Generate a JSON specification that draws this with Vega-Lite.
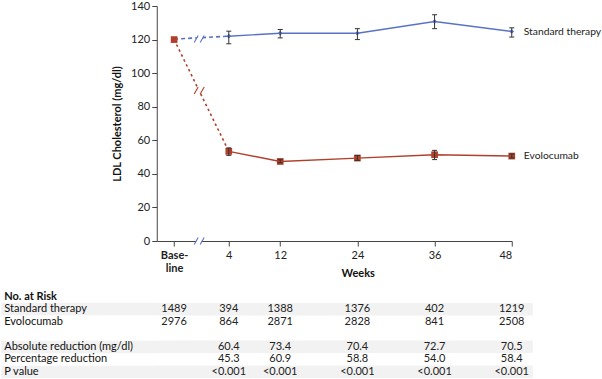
{
  "$schema": "https://vega.github.io/schema/vega-lite/v6.json",
  "padding": {"left": -6.25, "top": 0, "right": 0, "bottom": 0},
  "background": "white",
  "spacing": 11.5,
  "config": {
    "font": "Lato",
    "view": {"stroke": null},
    "axis": {"labelFontSize": 11, "titleFontSize": 11, "labelColor": "#222", "titleColor": "#111", "domainColor": "#444", "tickColor": "#444", "labelFont": "Lato", "titleFont": "Lato"},
    "text": {"font": "Lato", "fontSize": 11, "fill": "#222"}
  },
  "datasets": {
    "main": [
      {"series": "Standard therapy", "week": -4.5, "mean": 120.3, "lo": null, "hi": null},
      {"series": "Standard therapy", "week": 4, "mean": 122.0, "lo": 117.5, "hi": 125.0},
      {"series": "Standard therapy", "week": 12, "mean": 123.8, "lo": 121.0, "hi": 126.0},
      {"series": "Standard therapy", "week": 24, "mean": 123.8, "lo": 120.0, "hi": 126.5},
      {"series": "Standard therapy", "week": 36, "mean": 130.8, "lo": 126.5, "hi": 134.8},
      {"series": "Standard therapy", "week": 48, "mean": 124.8, "lo": 121.5, "hi": 127.0},
      {"series": "Evolocumab", "week": -4.5, "mean": 120.0, "lo": null, "hi": null},
      {"series": "Evolocumab", "week": 4, "mean": 53.4, "lo": 51.0, "hi": 55.5},
      {"series": "Evolocumab", "week": 12, "mean": 47.4, "lo": 46.6, "hi": 48.4},
      {"series": "Evolocumab", "week": 24, "mean": 49.4, "lo": 48.0, "hi": 51.0},
      {"series": "Evolocumab", "week": 36, "mean": 51.4, "lo": 48.5, "hi": 54.0},
      {"series": "Evolocumab", "week": 48, "mean": 50.6, "lo": 49.5, "hi": 51.8}
    ],
    "breaks": [
      {"kind": "axis", "week": -0.6, "value": 0},
      {"kind": "Standard therapy", "week": -0.6, "value": 120.4},
      {"kind": "Evolocumab", "week": -0.6, "value": 89.6}
    ],
    "table": [
      {"row": "Standard therapy", "week": -4.5, "text": "1489"},
      {"row": "Standard therapy", "week": 4, "text": "394"},
      {"row": "Standard therapy", "week": 12, "text": "1388"},
      {"row": "Standard therapy", "week": 24, "text": "1376"},
      {"row": "Standard therapy", "week": 36, "text": "402"},
      {"row": "Standard therapy", "week": 48, "text": "1219"},
      {"row": "Evolocumab", "week": -4.5, "text": "2976"},
      {"row": "Evolocumab", "week": 4, "text": "864"},
      {"row": "Evolocumab", "week": 12, "text": "2871"},
      {"row": "Evolocumab", "week": 24, "text": "2828"},
      {"row": "Evolocumab", "week": 36, "text": "841"},
      {"row": "Evolocumab", "week": 48, "text": "2508"},
      {"row": "Absolute reduction (mg/dl)", "week": 4, "text": "60.4"},
      {"row": "Absolute reduction (mg/dl)", "week": 12, "text": "73.4"},
      {"row": "Absolute reduction (mg/dl)", "week": 24, "text": "70.4"},
      {"row": "Absolute reduction (mg/dl)", "week": 36, "text": "72.7"},
      {"row": "Absolute reduction (mg/dl)", "week": 48, "text": "70.5"},
      {"row": "Percentage reduction", "week": 4, "text": "45.3"},
      {"row": "Percentage reduction", "week": 12, "text": "60.9"},
      {"row": "Percentage reduction", "week": 24, "text": "58.8"},
      {"row": "Percentage reduction", "week": 36, "text": "54.0"},
      {"row": "Percentage reduction", "week": 48, "text": "58.4"},
      {"row": "P value", "week": 4, "text": "<0.001"},
      {"row": "P value", "week": 12, "text": "<0.001"},
      {"row": "P value", "week": 24, "text": "<0.001"},
      {"row": "P value", "week": 36, "text": "<0.001"},
      {"row": "P value", "week": 48, "text": "<0.001"}
    ],
    "shaded": [
      {"row": "Standard therapy"},
      {"row": "Absolute reduction (mg/dl)"},
      {"row": "P value"}
    ]
  },
  "resolve": {"scale": {"x": "independent", "y": "independent", "color": "independent"}},
  "vconcat": [
    {
      "width": 355,
      "height": 235,
      "encoding": {
        "x": {"field": "week", "type": "quantitative", "scale": {"domain": [-7.2, 48], "nice": false, "zero": false},
          "axis": {"values": [-4.5, 4, 12, 24, 36, 48], "title": "Weeks", "titleFontWeight": "bold", "titleX": 201, "titleY": 32, "titleBaseline": "middle", "grid": false, "tickSize": 5, "labelPadding": 3, "labelLineHeight": 13,
            "labelExpr": "datum.value < 0 ? ['Base-', 'line'] : datum.label",
            "labelFontWeight": {"condition": {"test": "datum.value < 0", "value": "bold"}, "value": "normal"}}},
        "y": {"field": "mean", "type": "quantitative", "scale": {"domain": [0, 140], "nice": false},
          "axis": {"values": [0, 20, 40, 60, 80, 100, 120, 140], "title": "LDL Cholesterol (mg/dl)", "titleFontWeight": "bold", "titlePadding": 8, "grid": false, "tickSize": 5, "labelPadding": 2}}
      },
      "layer": [
        {
          "data": {"name": "main"},
          "transform": [{"filter": "datum.week <= 4"}],
          "mark": {"type": "line", "strokeWidth": 1.6},
          "encoding": {
            "color": {"field": "series", "type": "nominal", "scale": {"domain": ["Standard therapy", "Evolocumab"], "range": ["#5a72c6", "#b0402b"]}, "legend": null},
            "strokeDash": {"field": "series", "type": "nominal", "scale": {"domain": ["Standard therapy", "Evolocumab"], "range": [[4, 3], [2.5, 3]]}, "legend": null}
          }
        },
        {
          "data": {"name": "main"},
          "transform": [{"filter": "datum.week >= 4"}],
          "mark": {"type": "line", "strokeWidth": 1.4},
          "encoding": {
            "color": {"field": "series", "type": "nominal", "scale": {"domain": ["Standard therapy", "Evolocumab"], "range": ["#5a72c6", "#b0402b"]}, "legend": null}
          }
        },
        {
          "data": {"name": "breaks"},
          "mark": {"type": "point", "shape": "M-1,0.7 L-0.1,-0.7 L1,-0.7 L0.1,0.7 Z", "filled": true, "size": 90, "opacity": 1, "color": "white", "strokeWidth": 0},
          "encoding": {"x": {"field": "week", "type": "quantitative"}, "y": {"field": "value", "type": "quantitative"}}
        },
        {
          "data": {"name": "breaks"},
          "mark": {"type": "point", "shape": "M-1,0.7 L-0.2,-0.7 M0.2,0.7 L1,-0.7", "filled": false, "size": 100, "opacity": 1, "strokeWidth": 1.1},
          "encoding": {
            "x": {"field": "week", "type": "quantitative"},
            "y": {"field": "value", "type": "quantitative"},
            "color": {"field": "kind", "type": "nominal", "scale": {"domain": ["axis", "Standard therapy", "Evolocumab"], "range": ["#333333", "#3a4680", "#a0382a"]}, "legend": null}
          }
        },
        {
          "data": {"name": "main"},
          "mark": {"type": "point", "filled": true, "opacity": 1},
          "encoding": {
            "color": {"field": "series", "type": "nominal", "scale": {"domain": ["Standard therapy", "Evolocumab"], "range": ["#5a72c6", "#b0402b"]}, "legend": null},
            "shape": {"field": "series", "type": "nominal", "scale": {"domain": ["Standard therapy", "Evolocumab"], "range": ["diamond", "square"]}, "legend": null},
            "size": {"field": "series", "type": "nominal", "scale": {"domain": ["Standard therapy", "Evolocumab"], "range": [22, 45]}, "legend": null}
          }
        },
        {
          "data": {"name": "main"},
          "mark": {"type": "rule", "color": "#333", "strokeWidth": 1},
          "encoding": {"y": {"field": "lo", "type": "quantitative"}, "y2": {"field": "hi"}}
        },
        {
          "data": {"name": "main"},
          "mark": {"type": "tick", "orient": "horizontal", "size": 5, "thickness": 1, "color": "#333", "opacity": 1},
          "encoding": {"y": {"field": "lo", "type": "quantitative"}}
        },
        {
          "data": {"name": "main"},
          "mark": {"type": "tick", "orient": "horizontal", "size": 5, "thickness": 1, "color": "#333", "opacity": 1},
          "encoding": {"y": {"field": "hi", "type": "quantitative"}}
        },
        {
          "data": {"name": "main"},
          "transform": [{"filter": "datum.week == 48"}],
          "mark": {"type": "text", "align": "left", "baseline": "middle", "dx": 12, "fontSize": 10.3, "fill": "#222"},
          "encoding": {"text": {"field": "series"}}
        }
      ]
    },
    {
      "width": 376,
      "height": 87.5,
      "encoding": {
        "y": {"field": "row", "type": "nominal",
          "scale": {"domain": ["No. at Risk", "Standard therapy", "Evolocumab", " ", "Absolute reduction (mg/dl)", "Percentage reduction", "P value"], "paddingInner": 0, "paddingOuter": 0},
          "axis": {"title": null, "domain": false, "grid": false, "tickSize": 156, "tickWidth": 12.5, "tickCap": "butt",
            "tickColor": {"condition": {"test": "datum.value === 'Standard therapy' || datum.value === 'Absolute reduction (mg/dl)' || datum.value === 'P value'", "value": "#f2f2f2"}, "value": "rgba(255,255,255,0)"},
            "labelAlign": "left", "labelPadding": -3, "labelFontSize": 11, "labelColor": "#111", "labelBaseline": "middle",
            "labelFontWeight": {"condition": {"test": "datum.value === 'No. at Risk'", "value": "bold"}, "value": "normal"}}}
      },
      "layer": [
        {
          "data": {"name": "shaded"},
          "mark": {"type": "rect", "color": "#f2f2f2"}
        },
        {
          "data": {"name": "table"},
          "mark": {"type": "text", "align": "center", "baseline": "middle", "fontSize": 11, "fill": "#222"},
          "encoding": {
            "x": {"field": "week", "type": "quantitative", "scale": {"domain": [-7.2, 51.27], "nice": false, "zero": false}, "axis": null},
            "text": {"field": "text"}
          }
        }
      ]
    }
  ]
}
